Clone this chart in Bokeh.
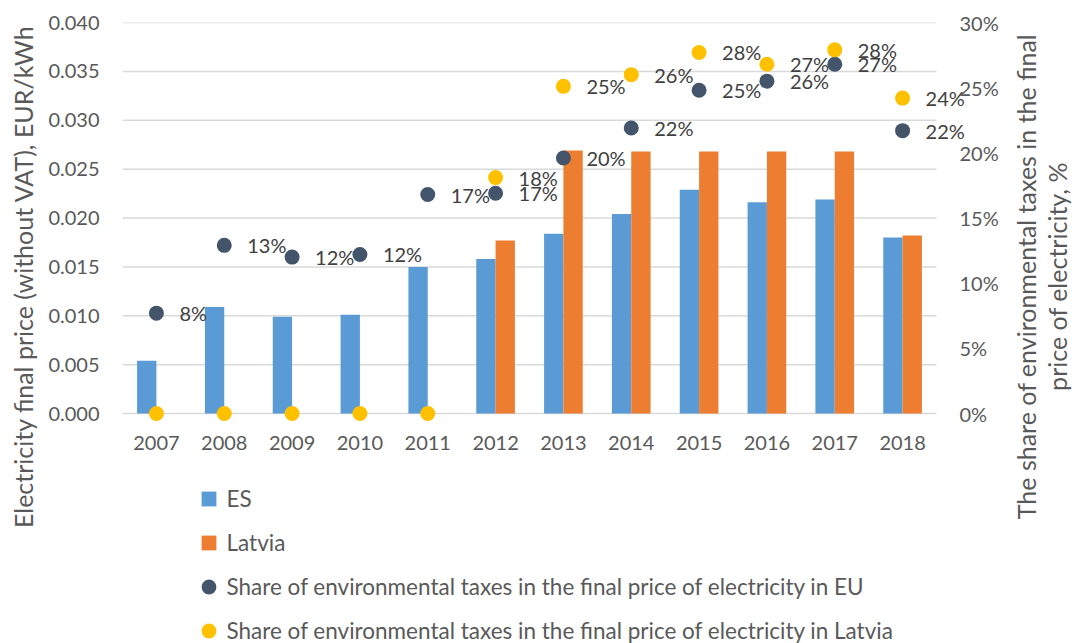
import math
from bokeh.plotting import figure
from bokeh.layouts import row, column
from bokeh.models import (Range1d, LinearAxis, FixedTicker, NumeralTickFormatter,
                          PrintfTickFormatter, ColumnDataSource, LabelSet, Label, Legend, LegendItem)
from bokeh.core.properties import value
from bokeh.transform import dodge
from bokeh.embed import file_html
from bokeh.resources import INLINE

# ---------------- data ----------------
years = ["2007", "2008", "2009", "2010", "2011", "2012",
         "2013", "2014", "2015", "2016", "2017", "2018"]
es_price = [0.0054, 0.0109, 0.0099, 0.0101, 0.0150, 0.0158,
            0.0184, 0.0204, 0.0229, 0.0216, 0.0219, 0.0180]
lv_price = [0.0, 0.0, 0.0, 0.0, 0.0, 0.0177,
            0.0269, 0.0268, 0.0268, 0.0268, 0.0268, 0.0182]
eu_share = [7.7, 12.9, 12.0, 12.2, 16.8, 16.9,
            19.6, 21.9, 24.8, 25.5, 26.8, 21.7]
lv_share = [0.0, 0.0, 0.0, 0.0, 0.0, 18.1,
            25.1, 26.0, 27.7, 26.8, 27.9, 24.2]
left_ticks = [0.0, 0.005, 0.010, 0.015, 0.020, 0.025, 0.030, 0.035, 0.040]
right_ticks = [0, 5, 10, 15, 20, 25, 30]
series_names = ["ES", "Latvia",
                "Share of environmental taxes in the final price of electricity in EU",
                "Share of environmental taxes in the final price of electricity in Latvia"]
left_title = "Electricity final price (without VAT), EUR/kWh"
right_title = ["The share of environmental taxes in the final", "price of electricity, %"]

# ---------------- styling ----------------
C_ES, C_LV, C_EUD, C_LVD = "#5B9BD5", "#ED7D31", "#44546A", "#FFC000"
TXT = "#595959"
FONT = "Lato"

TOTAL_W, TOTAL_H = 1072, 643
LT_W, RT_W = 45, 67                        # side strips holding the axis titles
MAIN_W = TOTAL_W - LT_W - RT_W             # 960
MAIN_H = 470
LEG_H = TOTAL_H - MAIN_H                   # 173

# main frame geometry (page pixels)
FR_L, FR_T, ZERO_Y = 122, 22, 413
CAT_R = 936                                # right end of the category band
FR_R = 975                                 # frame extends a bit so end labels are not clipped
PAD = 8                                    # frame extends below the zero line
FR_B = ZERO_Y + PAD
n = len(years)
CAT = (CAT_R - FR_L) / n
ZH = ZERO_Y - FR_T

lmax, rmax = left_ticks[-1], right_ticks[-1]
xpos = list(range(n))

p = figure(width=MAIN_W, height=MAIN_H,
           x_range=Range1d(-0.5, n - 0.5 + (FR_R - CAT_R) / CAT),
           y_range=Range1d(-lmax * PAD / ZH, lmax),
           min_border_left=FR_L - LT_W, min_border_right=LT_W + MAIN_W - FR_R,
           min_border_top=FR_T, min_border_bottom=MAIN_H - FR_B,
           output_backend="svg", toolbar_location=None,
           outline_line_color=None, background_fill_color="white", border_fill_color="white")
p.extra_y_ranges = {"pct": Range1d(-rmax * PAD / ZH, rmax)}

# gridlines spanning only the category band
p.xgrid.visible = False
p.ygrid.visible = False
p.segment(x0=-0.5, x1=n - 0.5, y0=left_ticks, y1=left_ticks,
          line_color="#D9D9D9", line_width=1.5)

src = ColumnDataSource(dict(x=xpos, es=es_price, lv=lv_price, eu=eu_share, lvs=lv_share,
                            eu_lbl=[f"{round(v):d}%" for v in eu_share]))
lv_idx = [i for i, v in enumerate(lv_share) if v > 0]
src_lvl = ColumnDataSource(dict(x=[xpos[i] for i in lv_idx], lvs=[lv_share[i] for i in lv_idx],
                                lbl=[f"{round(lv_share[i]):d}%" for i in lv_idx]))

bw = 0.285
p.vbar(x=dodge("x", -bw / 2), top="es", width=bw, source=src, fill_color=C_ES, line_color=None)
p.vbar(x=dodge("x", bw / 2), top="lv", width=bw, source=src, fill_color=C_LV, line_color=None)

p.scatter(x="x", y="eu", y_range_name="pct", size=15, source=src,
          fill_color=C_EUD, line_color=None)
p.scatter(x="x", y="lvs", y_range_name="pct", size=15, source=src,
          fill_color=C_LVD, line_color=None)

for s, ycol, tcol in [(src, "eu", "eu_lbl"), (src_lvl, "lvs", "lbl")]:
    p.add_layout(LabelSet(x="x", y=ycol, text=tcol, source=s, y_range_name="pct",
                          x_offset=23, text_baseline="middle", text_align="left",
                          text_font=value(FONT), text_font_size=value("20px"),
                          text_color="#404040"))

def style_axis(ax, standoff):
    ax.axis_line_color = None
    ax.major_tick_line_color = None
    ax.minor_tick_line_color = None
    ax.major_tick_out = 0
    ax.major_tick_in = 0
    ax.minor_tick_out = 0
    ax.minor_tick_in = 0
    ax.major_label_standoff = standoff
    ax.major_label_text_font = FONT
    ax.major_label_text_font_size = "20px"
    ax.major_label_text_color = TXT

p.xaxis.ticker = FixedTicker(ticks=xpos)
p.xaxis.major_label_overrides = {i: y for i, y in zip(xpos, years)}
style_axis(p.xaxis[0], 14)

p.yaxis.ticker = FixedTicker(ticks=left_ticks)
p.yaxis.formatter = NumeralTickFormatter(format="0.000")
style_axis(p.yaxis[0], 23)

ra = LinearAxis(y_range_name="pct", ticker=FixedTicker(ticks=right_ticks),
                formatter=PrintfTickFormatter(format="%d%%"))
style_axis(ra, 959 - FR_R)
p.add_layout(ra, "right")

# ---------------- side strips with axis titles ----------------
def strip(w, h):
    f = figure(width=w, height=h, x_range=Range1d(0, w), y_range=Range1d(h, 0),
               x_axis_location=None, y_axis_location=None, min_border=0,
               output_backend="svg", toolbar_location=None, outline_line_color=None,
               background_fill_color="white", border_fill_color="white")
    f.grid.visible = False
    return f

TITLE_Y = 276
TITLE_SIZE = "25px"
p_lt = strip(LT_W, TOTAL_H)
p_lt.add_layout(Label(x=22, y=TITLE_Y, text=left_title, angle=math.pi / 2,
                      text_align="center", text_baseline="middle",
                      text_font=FONT, text_font_size=TITLE_SIZE, text_color=TXT))

p_rt = strip(RT_W, TOTAL_H)
for t, xx in zip(right_title, [1025, 1056]):
    p_rt.add_layout(Label(x=xx - (LT_W + MAIN_W), y=TITLE_Y, text=t, angle=math.pi / 2,
                          text_align="center", text_baseline="middle",
                          text_font=FONT, text_font_size=TITLE_SIZE, text_color=TXT))

# ---------------- legend strip ----------------
p_leg = strip(MAIN_W, LEG_H)
leg_specs = [("square", C_ES), ("square", C_LV), ("circle", C_EUD), ("circle", C_LVD)]
items = []
for name, (mk, col) in zip(series_names, leg_specs):
    r = p_leg.scatter(x=[-1000], y=[-1000], marker=mk, fill_color=col, line_color=None, size=15)
    items.append(LegendItem(label=name, renderers=[r]))
GB = 37
SP = 7
row1_center = 498 - MAIN_H
leg_height = 4 * GB + 3 * SP
leg_top = row1_center - GB / 2
legend = Legend(items=items, location=(209 - LT_W - GB / 2 - 78, LEG_H - leg_top - leg_height),
                orientation="vertical", glyph_width=GB, glyph_height=GB, label_height=GB,
                spacing=SP, label_standoff=-10, padding=0, margin=0,
                border_line_color=None, background_fill_alpha=0,
                label_text_font=FONT, label_text_font_size="22.5px", label_text_color=TXT)
p_leg.add_layout(legend)

layout = row(p_lt, column(p, p_leg), p_rt)
open("out.html", "w").write(file_html(layout, INLINE))
